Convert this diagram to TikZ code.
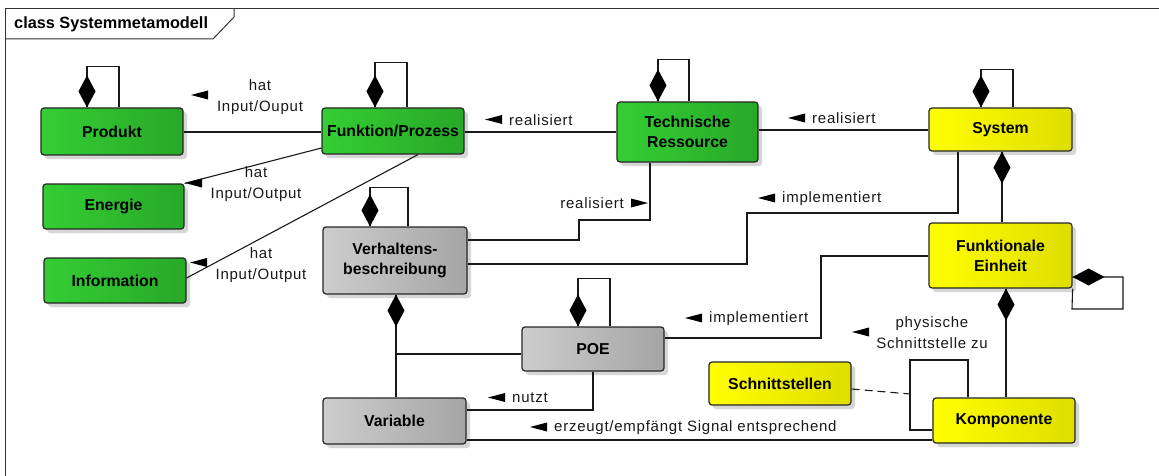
\documentclass[tikz,border=0pt]{standalone}
\usepackage{fontspec}
\setmainfont{Liberation Sans}
\newfontfamily\lblfont[LetterSpace=5]{Liberation Sans}
\usetikzlibrary{shadows}
\definecolor{gA}{RGB}{52,206,52}
\definecolor{gB}{RGB}{40,168,40}
\definecolor{yA}{RGB}{255,255,0}
\definecolor{yB}{RGB}{222,222,0}
\definecolor{hA}{RGB}{205,205,205}
\definecolor{hB}{RGB}{165,165,165}
\begin{document}
\begin{tikzpicture}[x=1pt,y=-1pt,
  box/.style={draw=black!85, line width=1.2pt, rounded corners=3pt,
    font=\bfseries\fontsize{15.8}{20}\selectfont, align=center, inner sep=0pt,
    drop shadow={shadow xshift=4pt, shadow yshift=-4pt, fill=black!16, opacity=1}},
  gbox/.style={box, left color=gA, right color=gB},
  ybox/.style={box, left color=yA, right color=yB},
  hbox/.style={box, left color=hA, right color=hB},
  conn/.style={draw=black!90, line width=1.1pt},
  frame/.style={draw=black!80, line width=1pt},
  lbl/.style={font=\lblfont\fontsize{15}{21}\selectfont, inner sep=0pt, text=black!90},
  dia/.pic={\fill[black] (0,0) -- (8.5,-16) -- (0,-32) -- (-8.5,-16) -- cycle;},
  lmark/.pic={\fill[black] (0,0) -- (17,-4.5) -- (17,4.5) -- cycle;},
  rmark/.pic={\fill[black] (0,0) -- (-17,-4.5) -- (-17,4.5) -- cycle;}
]
\useasboundingbox (0,0) rectangle (1159,476);
\fill[white] (0,0) rectangle (1159,476);

% frame
\draw[frame] (1170,9) -- (5,9) -- (5,490);
\draw[frame] (5,39) -- (213,39) -- (234,17) -- (234,9);
\node[anchor=west, inner sep=0pt, font=\bfseries\fontsize{16.3}{18}\selectfont] (title) at (14,24) {class Systemmetamodell};

% nodes
\node[gbox, minimum width=142pt, minimum height=47pt] (prod) at (112,131.5) {Produkt};
\node[gbox, minimum width=142pt, minimum height=46pt] (func) at (393,131) {Funktion/Prozess};
\node[gbox, minimum width=141pt, minimum height=60pt] (tech) at (687.5,132) {Technische\\Ressource};
\node[ybox, minimum width=143pt, minimum height=43pt] (sys) at (1000.5,129.5) {System};
\node[gbox, minimum width=141pt, minimum height=45pt] (ener) at (113.5,206.5) {Energie};
\node[gbox, minimum width=142pt, minimum height=45pt] (info) at (115,280.5) {Information};
\node[hbox, minimum width=144pt, minimum height=67pt] (verh) at (395,260.5) {Verhaltens-\\beschreibung};
\node[hbox, minimum width=142pt, minimum height=44pt] (poe) at (593,349) {POE};
\node[hbox, minimum width=143pt, minimum height=46pt] (var) at (394.5,421) {Variable};
\node[ybox, minimum width=143pt, minimum height=65pt] (fe) at (1000.5,255.5) {Funktionale\\Einheit};
\node[ybox, minimum width=142pt, minimum height=43pt] (schn) at (780,383.5) {Schnittstellen};
\node[ybox, minimum width=142pt, minimum height=45pt] (komp) at (1004,420.5) {Komponente};

% Produkt - Funktion
\draw[conn] (prod.east |- 0,132) -- (func.west |- 0,132);
\pic at (191,95) {lmark};
\node[lbl, align=center] (l1) at (260,97) {hat\\Input/Ouput};

% Funktion - Energie
\draw[conn] (func.west |- 0,148) -- (ener.north east);
\pic at (185,183) {lmark};
\node[lbl, align=center] (l2) at (256,184) {hat\\Input/Output};

% Funktion - Information
\draw[conn] (func.south -| 418,0) -- (info.east |- 0,278);
\pic at (190,262.5) {lmark};
\node[lbl, align=center] (l3) at (261,265.5) {hat\\Input/Output};

% Funktion - Technische Ressource
\draw[conn] (func.east |- 0,132) -- (tech.west |- 0,132);
\pic at (485,119.5) {lmark};
\node[lbl, anchor=west] (l4) at (509,120) {realisiert};

% Technische Ressource - System
\draw[conn] (tech.east |- 0,130) -- (sys.west |- 0,130);
\pic at (788,118) {lmark};
\node[lbl, anchor=west] (l5) at (812,118.5) {realisiert};

% Technische Ressource - Verhaltensbeschreibung
\draw[conn] (tech.south -| 650,0) |- (579,220) |- (verh.east |- 0,240);
\pic at (648,203) {rmark};
\node[lbl, anchor=east] (l6) at (624,203.5) {realisiert};

% System - Verhaltensbeschreibung
\draw[conn] (sys.south -| 958,0) |- (747,213) |- (verh.east |- 0,264);
\pic at (758,198) {lmark};
\node[lbl, anchor=west] (l7) at (782,198.5) {implementiert};

% Funktionale Einheit - POE
\draw[conn] (fe.west |- 0,256) -| (821,338) -- (poe.east |- 0,338);
\pic at (685,318) {lmark};
\node[lbl, anchor=west] (l8) at (709,318.5) {implementiert};

% POE - Variable
\draw[conn] (poe.south -| 593,0) |- (var.east |- 0,410);
\pic at (488,397.5) {lmark};
\node[lbl, anchor=west] (l9) at (512,398) {nutzt};

% Variable - Komponente
\draw[conn] (var.east |- 0,440) -- (komp.west |- 0,440);
\pic at (530,427) {lmark};
\node[lbl, anchor=west] (l10) at (554,427.5) {erzeugt/empfängt Signal entsprechend};

% Komponente self association
\draw[conn] (komp.west |- 0,430) -| (910,360) -| (komp.north -| 968,0);
\coordinate (kloop) at (910,394);
\draw[conn, dash pattern=on 8pt off 5pt] (schn.east |- 0,389) -- (kloop);
\pic at (852,332) {lmark};
\node[lbl, align=center] (l11) at (932,332.5) {physische\\Schnittstelle zu};

% compositions (self)
\draw[conn] (prod.north -| 87,0) -- ++(0,-41) -| (prod.north -| 119,0);
\pic at (prod.north -| 87,0) {dia};
\draw[conn] (func.north -| 375,0) -- ++(0,-45) -| (func.north -| 407,0);
\pic at (func.north -| 375,0) {dia};
\draw[conn] (tech.north -| 658,0) -- ++(0,-42) -| (tech.north -| 689,0);
\pic at (tech.north -| 658,0) {dia};
\draw[conn] (sys.north -| 981,0) -- ++(0,-38) -| (sys.north -| 1013,0);
\pic at (sys.north -| 981,0) {dia};
\draw[conn] (verh.north -| 370,0) -- ++(0,-39) -| (verh.north -| 408,0);
\pic at (verh.north -| 370,0) {dia};
\draw[conn] (poe.north -| 578,0) -- ++(0,-48) -| (poe.north -| 610,0);
\pic at (poe.north -| 578,0) {dia};
\draw[conn] (fe.east |- 0,277) -- (1123,277) |- (1072,309) -- (fe.south east);
\pic[rotate=-90] at (fe.east |- 0,277) {dia};

% compositions (between nodes)
\draw[conn] (sys.south -| 1002,0) -- (fe.north -| 1002,0);
\pic[rotate=180] at (sys.south -| 1002,0) {dia};
\draw[conn] (fe.south -| 1006,0) -- (komp.north -| 1006,0);
\pic[rotate=180] at (fe.south -| 1006,0) {dia};
\draw[conn] (verh.south -| 396,0) -- (var.north -| 396,0);
\pic[rotate=180] at (verh.south -| 396,0) {dia};
\coordinate (vj) at (396,354);
\draw[conn] (vj) -- (poe.west |- 0,354);
\end{tikzpicture}
\end{document}
